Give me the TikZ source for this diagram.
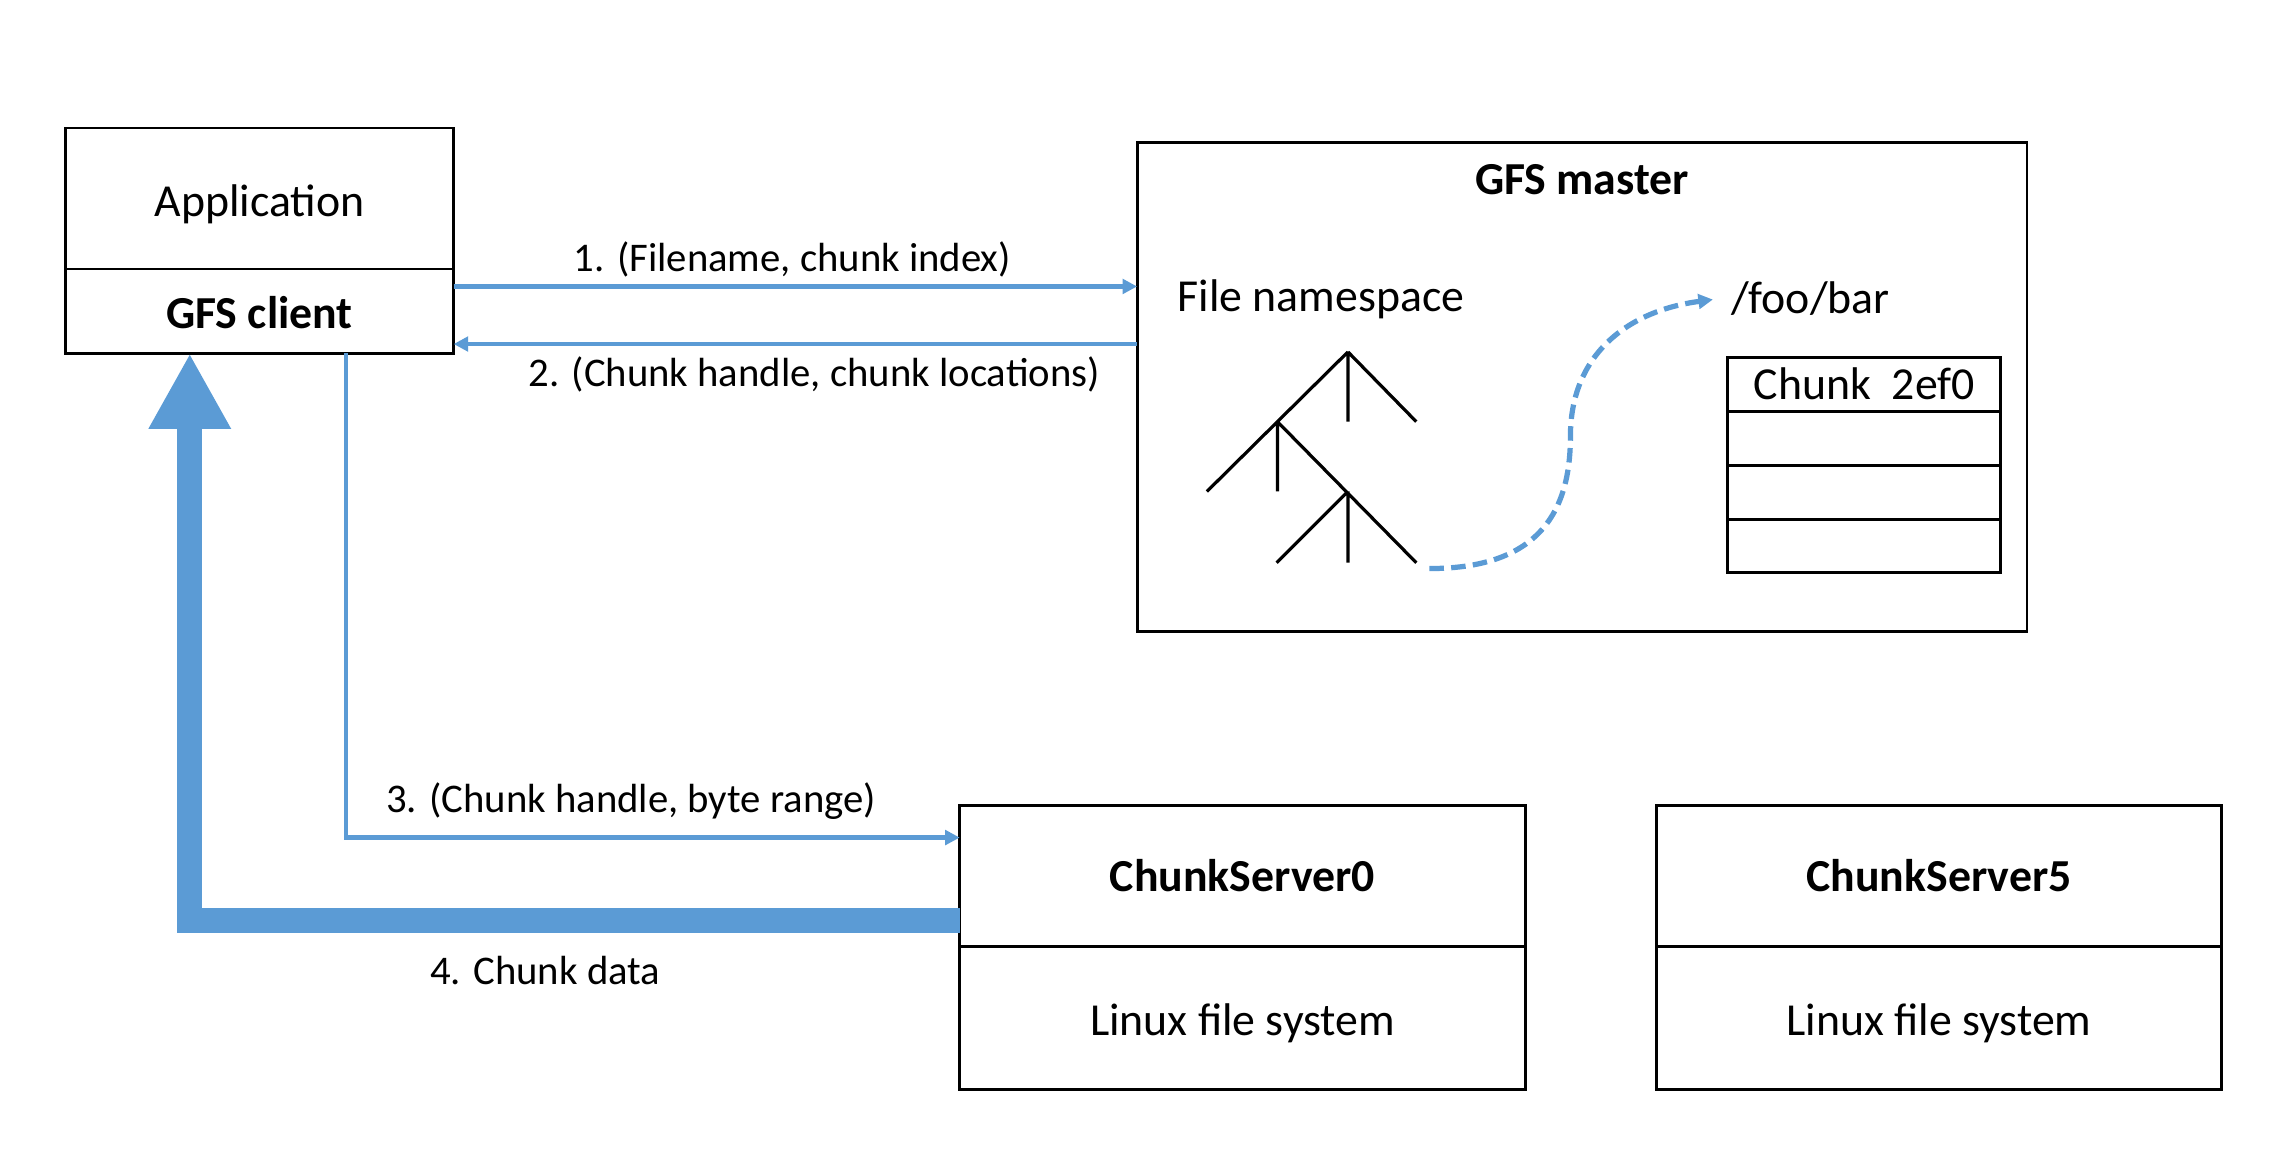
\documentclass[tikz,border=0pt]{standalone}
\usepackage{fontspec}
\setmainfont{Carlito}
\usetikzlibrary{arrows.meta}
\definecolor{flow}{HTML}{5B9BD5}

\begin{document}
\begin{tikzpicture}[x=1pt,y=-1pt,
  box/.style 2 args={draw=black, line width=2pt, inner sep=0pt, outer sep=0pt,
    minimum width=#1pt, minimum height=#2pt},
  txt/.style={font=\fontsize{31.5}{36}\selectfont, anchor=base, inner sep=0pt},
  btxt/.style={font=\fontsize{31.5}{36}\selectfont\bfseries, anchor=base, inner sep=0pt},
  lbl/.style={font=\fontsize{28}{32}\selectfont, anchor=base, inner sep=0pt},
  thinflow/.style={draw=flow, line width=3pt, -{Triangle[length=10pt,width=10pt]}},
  treeline/.style={draw=black, line width=2.2pt}]

  \useasboundingbox (0,0) rectangle (1568,792);

  % client machine
  \node[box={267}{97}] (app) at (178.5,136.5) {};
  \node[box={267}{58}] (client) at (178.5,214) {};
  \node[txt] (apptext) at (178.5,148.6) {Application};
  \node[btxt] (clienttext) at (178.5,225.7) {GFS client};

  % master
  \node[box={612}{336}] (master) at (1088,266) {};
  \node[btxt] (mastertext) at (1088,134) {GFS master};
  \node[txt] (nstext) at (908.5,214.4) {File namespace};
  \node[txt] (foobar) at (1245,215.5) {/foo/bar};

  % chunk table
  \node[box={188}{37}] (row1) at (1282,264.5) {};
  \node[box={188}{37}] (row2) at (1282,301.5) {};
  \node[box={188}{37}] (row3) at (1282,338.5) {};
  \node[box={188}{37}] (row4) at (1282,375.5) {};
  \node[txt] (chunktext) at (1282,275) {Chunk\ \ 2ef0};

  % namespace tree
  \draw[treeline] (927,242) -- (830,338)
                  (927,242) -- (974,290)
                  (927,242) -- (927,290)
                  (878.5,290) -- (878.5,338)
                  (878.5,290) -- (974,387)
                  (927,338) -- (878,387)
                  (927,338) -- (927,387);
  \coordinate (nsend) at (983,391);
  \coordinate (foobartip) at (1178,206);
  \draw[flow, line width=3.6pt, dash pattern=on 10pt off 5pt,
        -{Triangle[length=10pt,width=10pt]}]
    (nsend) .. controls (1060,391) and (1080,350) .. (1080,300)
            .. controls (1080,245) and (1118,214) .. (foobartip);

  % chunk servers
  \node[box={389}{97}] (cs0top) at (854.5,602.5) {};
  \node[box={389}{98}] (cs0bot) at (854.5,700) {};
  \node[btxt] (cs0name) at (854.5,613.3) {ChunkServer0};
  \node[txt] (cs0fs) at (854.5,711.8) {Linux file system};

  \node[box={389}{97}] (cs5top) at (1333.5,602.5) {};
  \node[box={389}{98}] (cs5bot) at (1333.5,700) {};
  \node[btxt] (cs5name) at (1333.5,613.3) {ChunkServer5};
  \node[txt] (cs5fs) at (1333.5,711.8) {Linux file system};

  % request / reply arrows
  \draw[thinflow] ([yshift=17pt]client.east) -- ([yshift=17pt]client.east -| master.west);
  \draw[thinflow] ([yshift=-22.6pt]client.east -| master.west) -- ([yshift=-22.6pt]client.east);
  \node[lbl] (l1) at (545,186.8) {1. (Filename, chunk index)};
  \node[lbl] (l2) at (560,265.5) {2. (Chunk handle, chunk locations)};

  \draw[thinflow] ([xshift=59.5pt]client.south) |- ([yshift=-22pt]cs0top.north west);
  \node[lbl] (l3) at (434,558.5) {3. (Chunk handle, byte range)};

  % data transfer
  \draw[flow, line width=17pt, -{Triangle[length=52pt,width=53pt]}]
    ([yshift=18.2pt]cs0top.south west) -| ([xshift=-48pt]client.south);
  \node[lbl] (l4) at (375,676.8) {4. Chunk data};
\end{tikzpicture}
\end{document}
